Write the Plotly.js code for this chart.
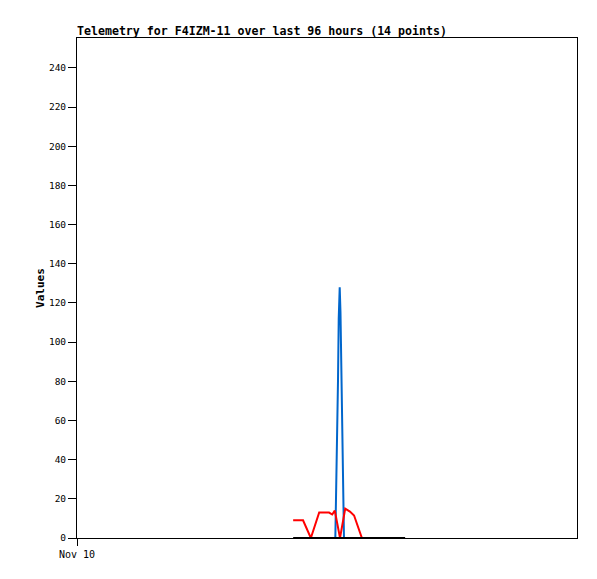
<!DOCTYPE html>
<html>
<head>
<meta charset="utf-8">
<script src="https://cdn.plot.ly/plotly-3.0.1.min.js"></script>
<style>html,body{margin:0;padding:0;background:#fff;}#chart{width:597px;height:579px;}</style>
</head>
<body>
<div id="chart"></div>
<script>
// Times (hours after Nov 10 00:00) and values
const redTimes   = [41.5, 43.4, 44.9, 46.5, 48.4, 49.0, 49.5, 50.5, 51.5, 52.4, 53.2, 54.7];
const redValues  = [9, 9, 0, 13, 13, 12, 14, 0, 15, 13.5, 11.5, 0];
const blueTimes  = [49.6, 49.98, 50.11, 50.25, 50.44, 50.59, 50.75, 50.88, 51.07, 51.26];
const blueValues = [0, 48, 80, 112, 128, 115, 90, 64, 39, 0];
const blackTimes  = [41.5, 63.0];
const blackValues = [0, 0];
const yTicks = [0, 20, 40, 60, 80, 100, 120, 140, 160, 180, 200, 220, 240];
const xTickLabels = ["Nov 10"];
const startDate = Date.UTC(2023, 10, 10, 0, 0, 0);
const yMax = 255.3;

function toDate(h) {
  return new Date(startDate + h * 3600 * 1000).toISOString().replace('Z', '');
}

const traces = [
  {x: blueTimes.map(toDate), y: blueValues, mode: 'lines', line: {color: '#0066cc', width: 2}, hoverinfo: 'skip'},
  {x: redTimes.map(toDate), y: redValues, mode: 'lines', line: {color: '#ff0000', width: 2}, hoverinfo: 'skip'},
  {x: blackTimes.map(toDate), y: blackValues, mode: 'lines', line: {color: '#000000', width: 2}, hoverinfo: 'skip'}
];

const mono = 'DejaVu Sans Mono, Liberation Mono, monospace';
const layout = {
  width: 597, height: 579,
  margin: {l: 77, r: 20, t: 38, b: 41, pad: 0},
  paper_bgcolor: '#ffffff', plot_bgcolor: '#ffffff',
  showlegend: false,
  font: {family: mono, size: 10, color: '#000000'},
  title: {
    text: '<b>Telemetry for F4IZM-11 over last 96 hours (14 points)</b>',
    font: {family: mono, size: 11.6, color: '#000000'},
    xref: 'paper', x: 0, xanchor: 'left',
    yref: 'container', y: 1 - 31 / 579, yanchor: 'middle'
  },
  xaxis: {
    type: 'date',
    range: [toDate(0), toDate(96)],
    tickvals: [toDate(0)], ticktext: xTickLabels,
    ticks: 'outside', ticklen: 7, tickcolor: '#000', tickwidth: 1,
    showgrid: false, zeroline: false,
    showline: true, linecolor: '#000', linewidth: 1, mirror: true,
    tickfont: {family: mono, size: 10, color: '#000'}
  },
  yaxis: {
    range: [0, yMax],
    tickvals: yTicks,
    ticks: 'outside', ticklen: 8, tickcolor: '#000', tickwidth: 1,
    showgrid: false, zeroline: false,
    showline: true, linecolor: '#000', linewidth: 1, mirror: true,
    tickfont: {family: mono, size: 9.5, color: '#000'},
    title: {text: '<b>Values</b>', font: {family: mono, size: 11, color: '#000'}, standoff: 2}
  }
};

Plotly.newPlot('chart', traces, layout, {staticPlot: true, displayModeBar: false});
</script>
</body>
</html>
